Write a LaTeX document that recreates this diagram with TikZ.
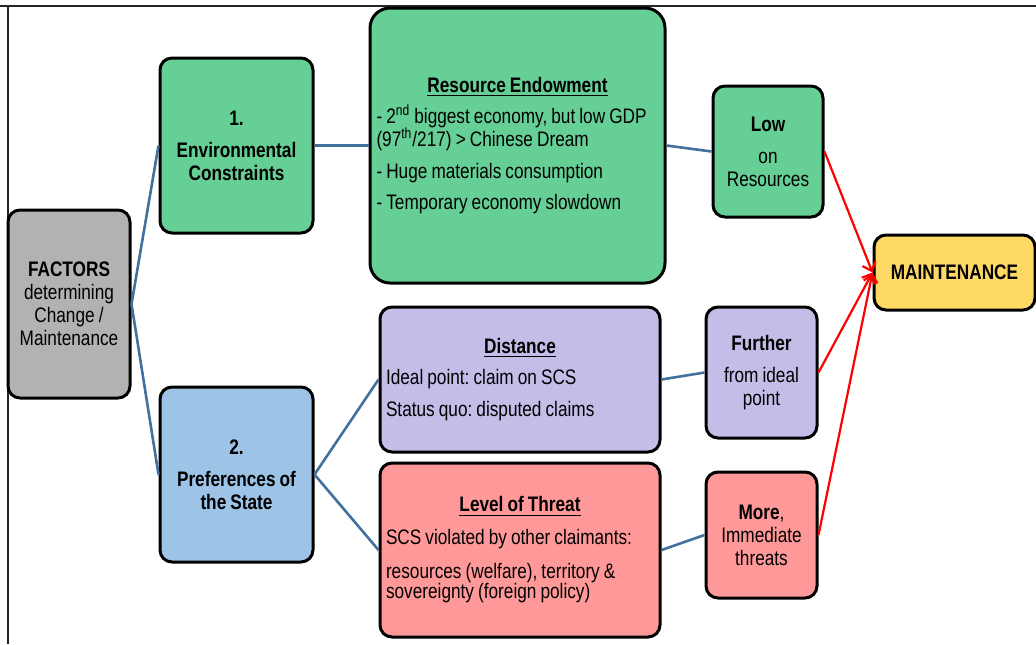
\documentclass[tikz,border=0pt]{standalone}
\usepackage{fontspec}
\setmainfont{Liberation Sans}[FakeStretch=0.82,WordSpace=0.85]
\usetikzlibrary{arrows.meta}
\definecolor{factgray}{HTML}{B2B2B2}
\definecolor{envgreen}{HTML}{66CF96}
\definecolor{prefblue}{HTML}{9DC3E6}
\definecolor{distlilac}{HTML}{C3BDE8}
\definecolor{threatpink}{HTML}{FF9999}
\definecolor{maintyellow}{HTML}{FFD966}
\definecolor{linkblue}{HTML}{41719C}
\newcommand{\boxtitle}[1]{\hspace*{\fill}\underline{\textbf{#1}}\hspace*{\fill}\mbox{}}
\frenchspacing

\begin{document}
\begin{tikzpicture}[x=0.5pt,y=-0.5pt,
  font=\fontsize{10.5}{11.5}\selectfont,
  box/.style={draw=black,line width=1.5pt,rounded corners=6pt,align=center,inner sep=3pt},
  link/.style={draw=linkblue,line width=1.3pt},
  push/.style={draw=red,line width=1.1pt,-{Straight Barb[length=4pt,width=7pt]}}]

  \useasboundingbox (0,0) rectangle (1036,644);
  \draw[line width=1pt,black!85] (0,6)--(1036,6);
  \draw[line width=1.2pt,black!85] (8,6)--(8,644);

  \node[box,fill=factgray,minimum width=61pt,minimum height=94pt] (factors) at (69,304)
    {\textbf{FACTORS}\\determining\\Change /\\Maintenance};

  \node[box,fill=envgreen,minimum width=76.5pt,minimum height=87.5pt,font=\fontsize{10.5}{11.5}\selectfont\bfseries] (env) at (236.5,145.5)
    {1.\\[4.5pt]Environmental\\Constraints};
  \node[box,fill=prefblue,minimum width=76.5pt,minimum height=87.5pt,font=\fontsize{10.5}{11.5}\selectfont\bfseries] (pref) at (236.5,474.5)
    {2.\\[4.5pt]Preferences of\\the State};

  \node[box,fill=envgreen,rounded corners=10pt,minimum width=147.5pt,minimum height=137.5pt,text width=141pt,align=flush left,inner sep=3.25pt] (res) at (517.5,145.5)
    {\boxtitle{Resource Endowment}\\[4pt]
     \mbox{- 2\textsuperscript{nd} biggest economy, but low GDP}\\
     (97\textsuperscript{th}/217) > Chinese Dream\\[4.5pt]
     - Huge materials consumption\\[4pt]
     - Temporary economy slowdown};
  \node[box,fill=distlilac,minimum width=140pt,minimum height=72.5pt,text width=134pt,align=flush left] (dist) at (520,379.5)
    {\boxtitle{Distance}\\[4pt]
     Ideal point: claim on SCS\\[4.5pt]
     Status quo: disputed claims};
  \node[box,fill=threatpink,minimum width=140pt,minimum height=87pt,text width=134pt,align=flush left] (threat) at (520,550)
    {\boxtitle{Level of Threat}\\[5pt]
     SCS violated by other claimants:\\[5.5pt]
     resources (welfare), territory \&\\[-1.5pt]
     sovereignty (foreign policy)};

  \node[box,fill=envgreen,minimum width=55pt,minimum height=65.5pt] (low) at (768,151.5)
    {\textbf{Low}\\[4.5pt]on\\Resources};
  \node[box,fill=distlilac,minimum width=55.5pt,minimum height=65.5pt] (further) at (761.5,372.5)
    {\textbf{Further}\\[4.5pt]from ideal\\point};
  \node[box,fill=threatpink,minimum width=55.5pt,minimum height=63pt] (more) at (761.5,535)
    {\textbf{More},\\Immediate\\threats};

  \node[box,fill=maintyellow,minimum width=80.5pt,minimum height=37.5pt,font=\fontsize{10.5}{11.5}\selectfont\bfseries] (maint) at (954.5,272.5)
    {MAINTENANCE};

  \draw[link] (factors.east)--(env.west);
  \draw[link] (factors.east)--(pref.west);
  \draw[link] (env.east)--(res.west);
  \draw[link] (pref.east)--(dist.west);
  \draw[link] (pref.east)--(threat.west);
  \draw[link] (res.east)--(low.west);
  \draw[link] (dist.east)--(further.west);
  \draw[link] (threat.east)--(more.west);

  \draw[push] (low.east)--(maint.west);
  \draw[push] (further.east)--(maint.west);
  \draw[push] (more.east)--(maint.west);
\end{tikzpicture}
\end{document}
